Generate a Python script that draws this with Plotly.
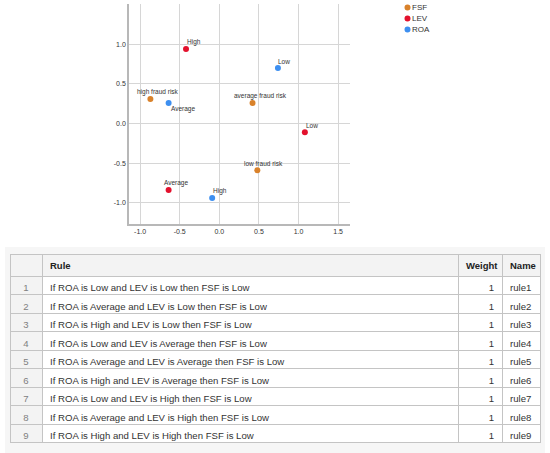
import plotly.graph_objects as go

# correspondence map coordinates
fsf_labels = ["high fraud risk", "average fraud risk", "low fraud risk"]
fsf_x = [-0.87, 0.42, 0.48]
fsf_y = [0.31, 0.26, -0.59]

lev_labels = ["High", "Low", "Average"]
lev_x = [-0.42, 1.08, -0.64]
lev_y = [0.94, -0.11, -0.84]

roa_labels = ["Low", "Average", "High"]
roa_x = [0.74, -0.64, -0.09]
roa_y = [0.70, 0.26, -0.94]

tick_vals = [-1.0, -0.5, 0.0, 0.5, 1.0, 1.5]
tick_text = ["-1.0", "-0.5", "0.0", "0.5", "1.0", "1.5"]
ytick_vals = [-1.0, -0.5, 0.0, 0.5, 1.0]
ytick_text = ["-1.0", "-0.5", "0.0", "0.5", "1.0"]

# rule table
rule_ids = ["1", "2", "3", "4", "5", "6", "7", "8", "9"]
rules = [
    "If ROA is Low and LEV is Low then FSF is Low",
    "If ROA is Average and LEV is Low then FSF is Low",
    "If ROA is High and LEV is Low then FSF is Low",
    "If ROA is Low and LEV is Average then FSF is Low",
    "If ROA is Average and LEV is Average then FSF is Low",
    "If ROA is High and LEV is Average then FSF is Low",
    "If ROA is Low and LEV is High then FSF is Low",
    "If ROA is Average and LEV is High then FSF is Low",
    "If ROA is High and LEV is High then FSF is Low",
]
weights = [1, 1, 1, 1, 1, 1, 1, 1, 1]
names = ["rule1", "rule2", "rule3", "rule4", "rule5", "rule6", "rule7", "rule8", "rule9"]
headers = ["", "Rule", "Weight", "Name"]

series_names = ["FSF", "LEV", "ROA"]
series_colors = ["#d9822b", "#e3112d", "#3d8ff0"]

FONT = "Liberation Sans, Arial, sans-serif"

fig = go.Figure()

# point labels sit just above the point (SPSS style), nudged sideways per label
label_dx = {"FSF": [-15, -21, -15], "LEV": [-1, -1, -7], "ROA": [-2, 0, -1]}
label_dy = {"FSF": [7, 7, 7], "LEV": [7, 7, 7], "ROA": [7, -6, 7]}

annotations = []
for nm, col, xs, ys, labels in zip(series_names, series_colors,
                                    [fsf_x, lev_x, roa_x], [fsf_y, lev_y, roa_y],
                                    [fsf_labels, lev_labels, roa_labels]):
    fig.add_trace(go.Scatter(x=xs, y=ys, name=nm, mode="markers",
                             marker=dict(color=col, size=6), hoverinfo="skip"))
    for k, (px_, py_, lab) in enumerate(zip(xs, ys, labels)):
        annotations.append(dict(x=px_, y=py_, xref="x", yref="y", text=lab,
                                showarrow=False, xanchor="left", yanchor="middle",
                                xshift=label_dx[nm][k], yshift=label_dy[nm][k],
                                font=dict(size=6.5, color="#333333")))

fig.add_trace(go.Table(
    domain=dict(x=[10 / 550, 540 / 550], y=[0, 1 - 254 / 453]),
    columnwidth=[32, 416, 44, 38],
    header=dict(
        values=headers,
        fill_color="#f3f3f3",
        line_color="#c4c4c4",
        align=["center", "left", "left", "left"],
        font=dict(family=FONT, size=9.5, color="#222222", weight="bold"),
        height=22,
    ),
    cells=dict(
        values=[rule_ids, rules, weights, names],
        fill_color=[["#f3f3f3"] * 9, ["white"] * 9, ["white"] * 9, ["white"] * 9],
        line_color="#c4c4c4",
        align=["center", "left", "right", "left"],
        font=dict(family=FONT, size=9.6, color=["#808080", "#333333", "#333333", "#333333"]),
        height=18.5,
    ),
))

axis_common = dict(
    showgrid=True, gridcolor="#d6d6d6", gridwidth=1.2,
    showline=True, linecolor="#b8b8b8", linewidth=1.5,
    zeroline=False, ticks="", tickfont=dict(size=7, color="#333333"),
)

# compact legend drawn by hand (plotly's legend rows are too tall here)
legend_shapes = []
for i, (nm, col) in enumerate(zip(series_names, series_colors)):
    yc = 1 - (7.5 + 11 * i) / 453
    legend_shapes.append(dict(type="circle", xref="paper", yref="paper",
                              x0=404.5 / 550, x1=410.5 / 550,
                              y0=yc - 3 / 453, y1=yc + 3 / 453,
                              fillcolor=col, line_width=0))
    annotations.append(dict(text=nm, xref="paper", yref="paper", x=410 / 550, y=yc,
                            xanchor="left", yanchor="middle", showarrow=False,
                            font=dict(size=8, color="#333333")))

fig.update_layout(
    width=550, height=453,
    margin=dict(l=0, r=0, t=0, b=0),
    paper_bgcolor="white", plot_bgcolor="white",
    font=dict(family=FONT),
    showlegend=False,
    xaxis=dict(domain=[129 / 550, 350 / 550], range=[-1.14, 1.65],
               tickvals=tick_vals, ticktext=tick_text, **axis_common),
    yaxis=dict(domain=[1 - 224 / 453, 1 - 4 / 453], range=[-1.27, 1.51],
               tickvals=ytick_vals, ticktext=ytick_text, **axis_common),
    annotations=annotations,
    shapes=[dict(type="rect", xref="paper", yref="paper",
                 x0=5 / 550, x1=545 / 550, y0=0, y1=1 - 247 / 453,
                 fillcolor="#f6f6f6", line_width=0, layer="below")] + legend_shapes,
)

fig.write_html("out.html", config={"displayModeBar": False},
               post_script="document.body.style.margin='0px';")
